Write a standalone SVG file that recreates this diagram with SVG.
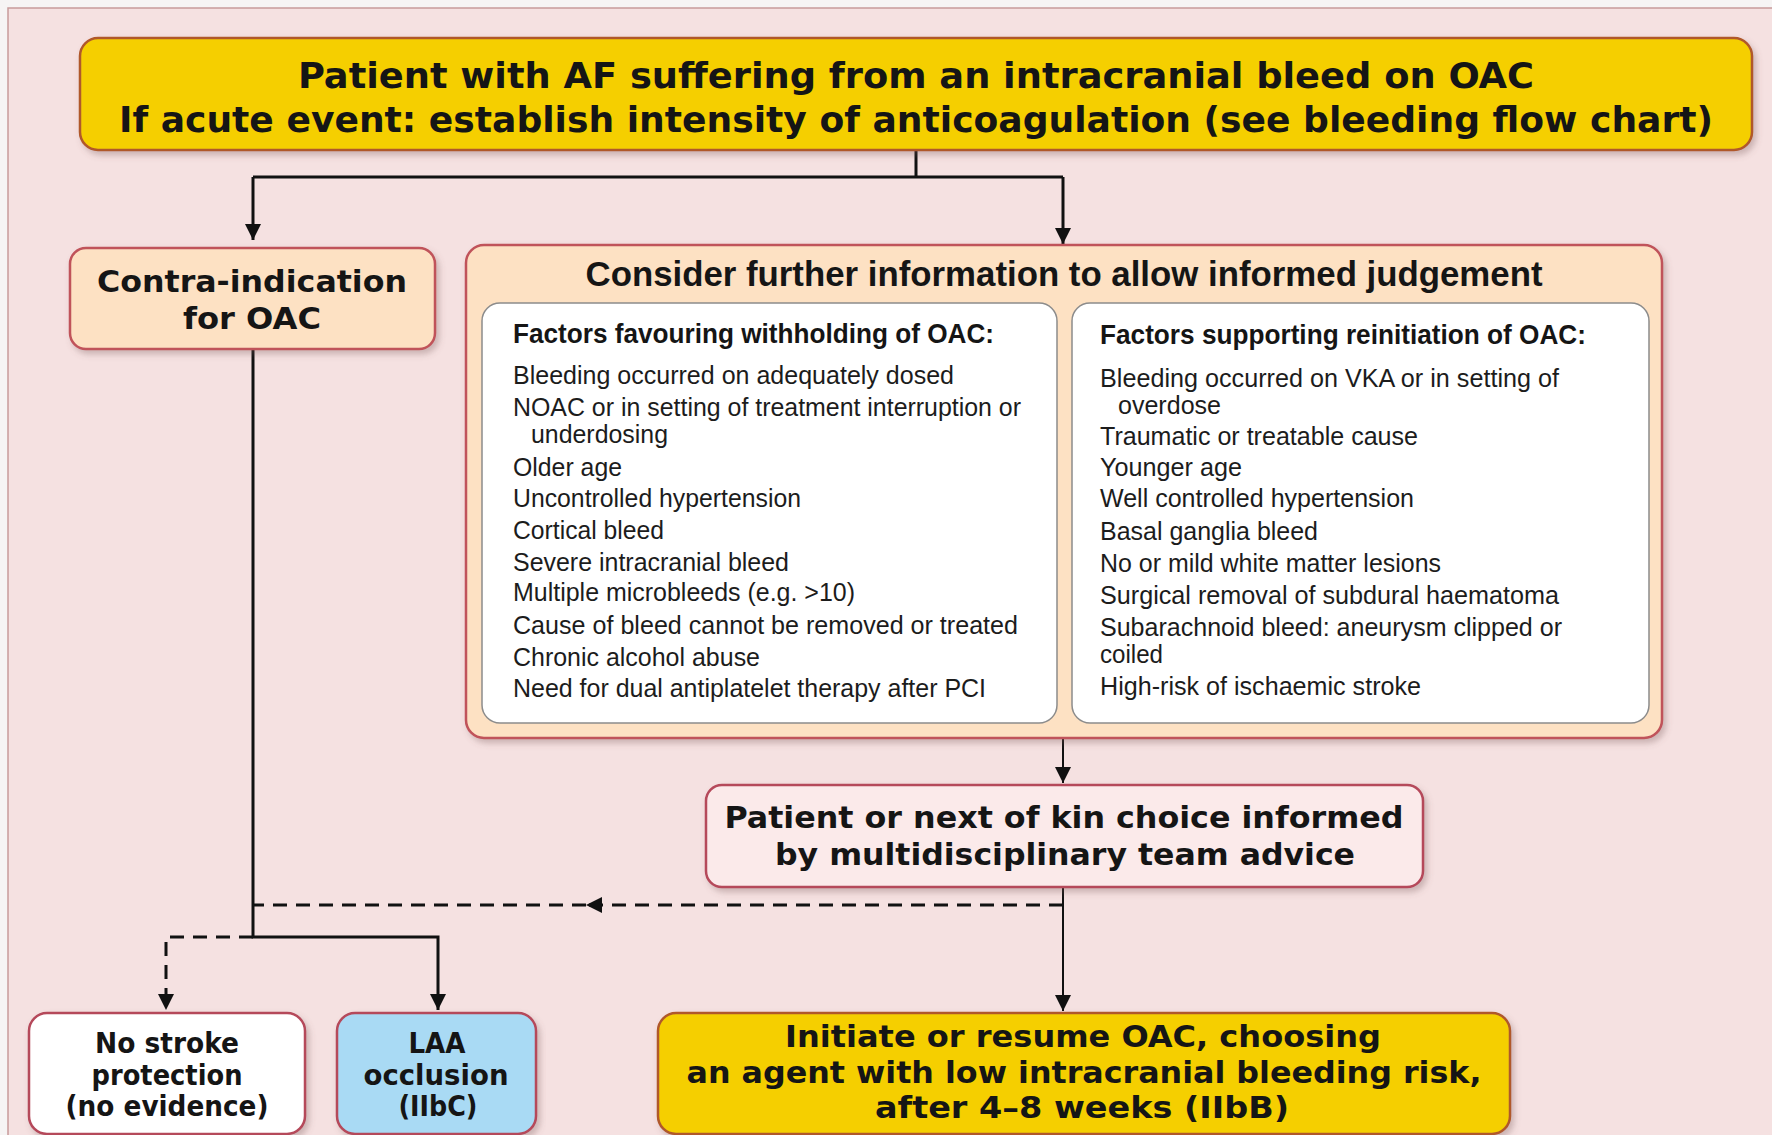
<svg xmlns="http://www.w3.org/2000/svg" width="1772" height="1135" viewBox="0 0 1772 1135">
  <defs>
    <filter id="shadow" x="-5%" y="-5%" width="110%" height="120%">
      <feDropShadow dx="3" dy="4" stdDeviation="3" flood-color="#7a5a5a" flood-opacity="0.35"/>
    </filter>
    <marker id="arrow" viewBox="0 0 16 18" refX="16" refY="9" markerWidth="16" markerHeight="18" markerUnits="userSpaceOnUse" orient="auto">
      <path d="M0,1 L16,9 L0,17 Z" fill="#111"/>
    </marker>
    <style>
      .panel { fill: #f5e1e1; stroke: #c79b9b; stroke-width: 1.5; }
      .yellow { fill: #f5cf00; stroke: #b0582c; stroke-width: 2.5; filter: url(#shadow); }
      .peach { fill: #fde1c3; stroke: #c0535a; stroke-width: 2.5; filter: url(#shadow); }
      .pink { fill: #fbeaea; stroke: #b5485a; stroke-width: 2.5; filter: url(#shadow); }
      .white { fill: #ffffff; stroke: #b5485a; stroke-width: 2.5; filter: url(#shadow); }
      .blue { fill: #a9daf4; stroke: #b5485a; stroke-width: 2.5; filter: url(#shadow); }
      .inner { fill: #ffffff; stroke: #8c8c8c; stroke-width: 1.5; }
      .head { font-family: "DejaVu Sans Condensed", "DejaVu Sans", Verdana, sans-serif; font-weight: bold; font-stretch: condensed; fill: #151515; text-anchor: middle; }
      .wide { font-family: "DejaVu Sans", Verdana, sans-serif; font-weight: bold; fill: #151515; text-anchor: middle; }
      .narrowb { font-family: "Liberation Sans Narrow", "Liberation Sans", Arial, sans-serif; font-weight: bold; fill: #151515; }
      .item { font-family: "Liberation Sans Narrow", "Liberation Sans", Arial, sans-serif; font-size: 26px; fill: #1c1c1c; }
      .line { fill: none; stroke: #111; stroke-width: 3; }
      .thin { fill: none; stroke: #111; stroke-width: 2; }
      .dash { fill: none; stroke: #111; stroke-width: 3; stroke-dasharray: 14 9; }
    </style>
  </defs>

  <!-- page and backing panel -->
  <rect x="0" y="0" width="1772" height="1135" fill="#f6f4f4"/>
  <rect class="panel" x="8" y="8" width="1775" height="1140"/>

  <!-- connectors -->
  <g id="connectors">
    <path class="line" d="M916,150 V177"/>
    <path class="line" d="M253,177 H1063"/>
    <path class="line" d="M253,177 V240" marker-end="url(#arrow)"/>
    <path class="line" d="M1063,177 V244" marker-end="url(#arrow)"/>
    <path class="thin" d="M1063,738 V783" marker-end="url(#arrow)"/>
    <path class="thin" d="M1063,887 V1011" marker-end="url(#arrow)"/>
    <path class="line" d="M253,350 V937 H438 V1010" marker-end="url(#arrow)"/>
    <path class="dash" d="M1063,905 H586" marker-end="url(#arrow)"/>
    <path class="dash" d="M586,905 H253"/>
    <path class="dash" d="M253,937 H166 V1010" marker-end="url(#arrow)"/>
  </g>

  <!-- top event -->
  <g id="node-event">
    <rect class="yellow" x="80" y="38" width="1672" height="112" rx="18"/>
    <text class="head" x="916" y="88" font-size="36" textLength="1236" lengthAdjust="spacingAndGlyphs">Patient with AF suffering from an intracranial bleed on OAC</text>
    <text class="head" x="916" y="132" font-size="36" textLength="1594" lengthAdjust="spacingAndGlyphs">If acute event: establish intensity of anticoagulation (see bleeding flow chart)</text>
  </g>

  <!-- contra-indication -->
  <g id="node-contra">
    <rect class="peach" x="70" y="248" width="365" height="101" rx="16"/>
    <text class="wide" x="252" y="292" font-size="30" textLength="310" lengthAdjust="spacingAndGlyphs">Contra-indication</text>
    <text class="wide" x="252" y="329" font-size="30" textLength="138" lengthAdjust="spacingAndGlyphs">for OAC</text>
  </g>

  <!-- further information -->
  <g id="node-consider">
    <rect class="peach" x="466" y="245" width="1196" height="493" rx="18"/>
    <text class="narrowb" x="1064" y="286" font-size="35" text-anchor="middle" textLength="957" lengthAdjust="spacingAndGlyphs">Consider further information to allow informed judgement</text>

    <rect class="inner" x="482" y="303" width="575" height="420" rx="18"/>
    <text class="narrowb" x="513" y="343" font-size="27" textLength="481" lengthAdjust="spacingAndGlyphs">Factors favouring withholding of OAC:</text>
    <g class="item">
      <text x="513" y="384" textLength="441" lengthAdjust="spacingAndGlyphs">Bleeding occurred on adequately dosed</text>
      <text x="513" y="416" textLength="508" lengthAdjust="spacingAndGlyphs">NOAC or in setting of treatment interruption or</text>
      <text x="531" y="443" textLength="137" lengthAdjust="spacingAndGlyphs">underdosing</text>
      <text x="513" y="476" textLength="109" lengthAdjust="spacingAndGlyphs">Older age</text>
      <text x="513" y="507" textLength="288" lengthAdjust="spacingAndGlyphs">Uncontrolled hypertension</text>
      <text x="513" y="539" textLength="151" lengthAdjust="spacingAndGlyphs">Cortical bleed</text>
      <text x="513" y="571" textLength="276" lengthAdjust="spacingAndGlyphs">Severe intracranial bleed</text>
      <text x="513" y="601" textLength="342" lengthAdjust="spacingAndGlyphs">Multiple microbleeds (e.g. &gt;10)</text>
      <text x="513" y="634" textLength="505" lengthAdjust="spacingAndGlyphs">Cause of bleed cannot be removed or treated</text>
      <text x="513" y="666" textLength="247" lengthAdjust="spacingAndGlyphs">Chronic alcohol abuse</text>
      <text x="513" y="697" textLength="473" lengthAdjust="spacingAndGlyphs">Need for dual antiplatelet therapy after PCI</text>
    </g>

    <rect class="inner" x="1072" y="303" width="577" height="420" rx="18"/>
    <text class="narrowb" x="1100" y="344" font-size="27" textLength="486" lengthAdjust="spacingAndGlyphs">Factors supporting reinitiation of OAC:</text>
    <g class="item">
      <text x="1100" y="387" textLength="459" lengthAdjust="spacingAndGlyphs">Bleeding occurred on VKA or in setting of</text>
      <text x="1118" y="414" textLength="103" lengthAdjust="spacingAndGlyphs">overdose</text>
      <text x="1100" y="445" textLength="318" lengthAdjust="spacingAndGlyphs">Traumatic or treatable cause</text>
      <text x="1100" y="476" textLength="142" lengthAdjust="spacingAndGlyphs">Younger age</text>
      <text x="1100" y="507" textLength="314" lengthAdjust="spacingAndGlyphs">Well controlled hypertension</text>
      <text x="1100" y="540" textLength="218" lengthAdjust="spacingAndGlyphs">Basal ganglia bleed</text>
      <text x="1100" y="572" textLength="341" lengthAdjust="spacingAndGlyphs">No or mild white matter lesions</text>
      <text x="1100" y="604" textLength="459" lengthAdjust="spacingAndGlyphs">Surgical removal of subdural haematoma</text>
      <text x="1100" y="636" textLength="462" lengthAdjust="spacingAndGlyphs">Subarachnoid bleed: aneurysm clipped or</text>
      <text x="1100" y="663" textLength="63" lengthAdjust="spacingAndGlyphs">coiled</text>
      <text x="1100" y="695" textLength="321" lengthAdjust="spacingAndGlyphs">High-risk of ischaemic stroke</text>
    </g>
  </g>

  <!-- shared decision -->
  <g id="node-choice">
    <rect class="pink" x="706" y="785" width="717" height="102" rx="16"/>
    <text class="head" x="1064" y="828" font-size="31" textLength="679" lengthAdjust="spacingAndGlyphs">Patient or next of kin choice informed</text>
    <text class="head" x="1065" y="865" font-size="31" textLength="580" lengthAdjust="spacingAndGlyphs">by multidisciplinary team advice</text>
  </g>

  <!-- outcomes -->
  <g id="node-no-protection">
    <rect class="white" x="29" y="1013" width="276" height="121" rx="18"/>
    <text class="head" x="167" y="1053" font-size="29" textLength="144" lengthAdjust="spacingAndGlyphs">No stroke</text>
    <text class="head" x="167" y="1085" font-size="29" textLength="151" lengthAdjust="spacingAndGlyphs">protection</text>
    <text class="head" x="167" y="1116" font-size="29" textLength="203" lengthAdjust="spacingAndGlyphs">(no evidence)</text>
  </g>

  <g id="node-laa">
    <rect class="blue" x="337" y="1013" width="199" height="121" rx="18"/>
    <text class="head" x="437" y="1053" font-size="29" textLength="57" lengthAdjust="spacingAndGlyphs">LAA</text>
    <text class="head" x="436" y="1085" font-size="29" textLength="145" lengthAdjust="spacingAndGlyphs">occlusion</text>
    <text class="head" x="438" y="1116" font-size="29" textLength="79" lengthAdjust="spacingAndGlyphs">(IIbC)</text>
  </g>

  <g id="node-resume">
    <rect class="yellow" x="658" y="1013" width="852" height="121" rx="18"/>
    <text class="head" x="1083" y="1047" font-size="31" textLength="596" lengthAdjust="spacingAndGlyphs">Initiate or resume OAC, choosing</text>
    <text class="head" x="1084" y="1083" font-size="31" textLength="795" lengthAdjust="spacingAndGlyphs">an agent with low intracranial bleeding risk,</text>
    <text class="head" x="1082" y="1118" font-size="31" textLength="414" lengthAdjust="spacingAndGlyphs">after 4–8 weeks (IIbB)</text>
  </g>
</svg>
